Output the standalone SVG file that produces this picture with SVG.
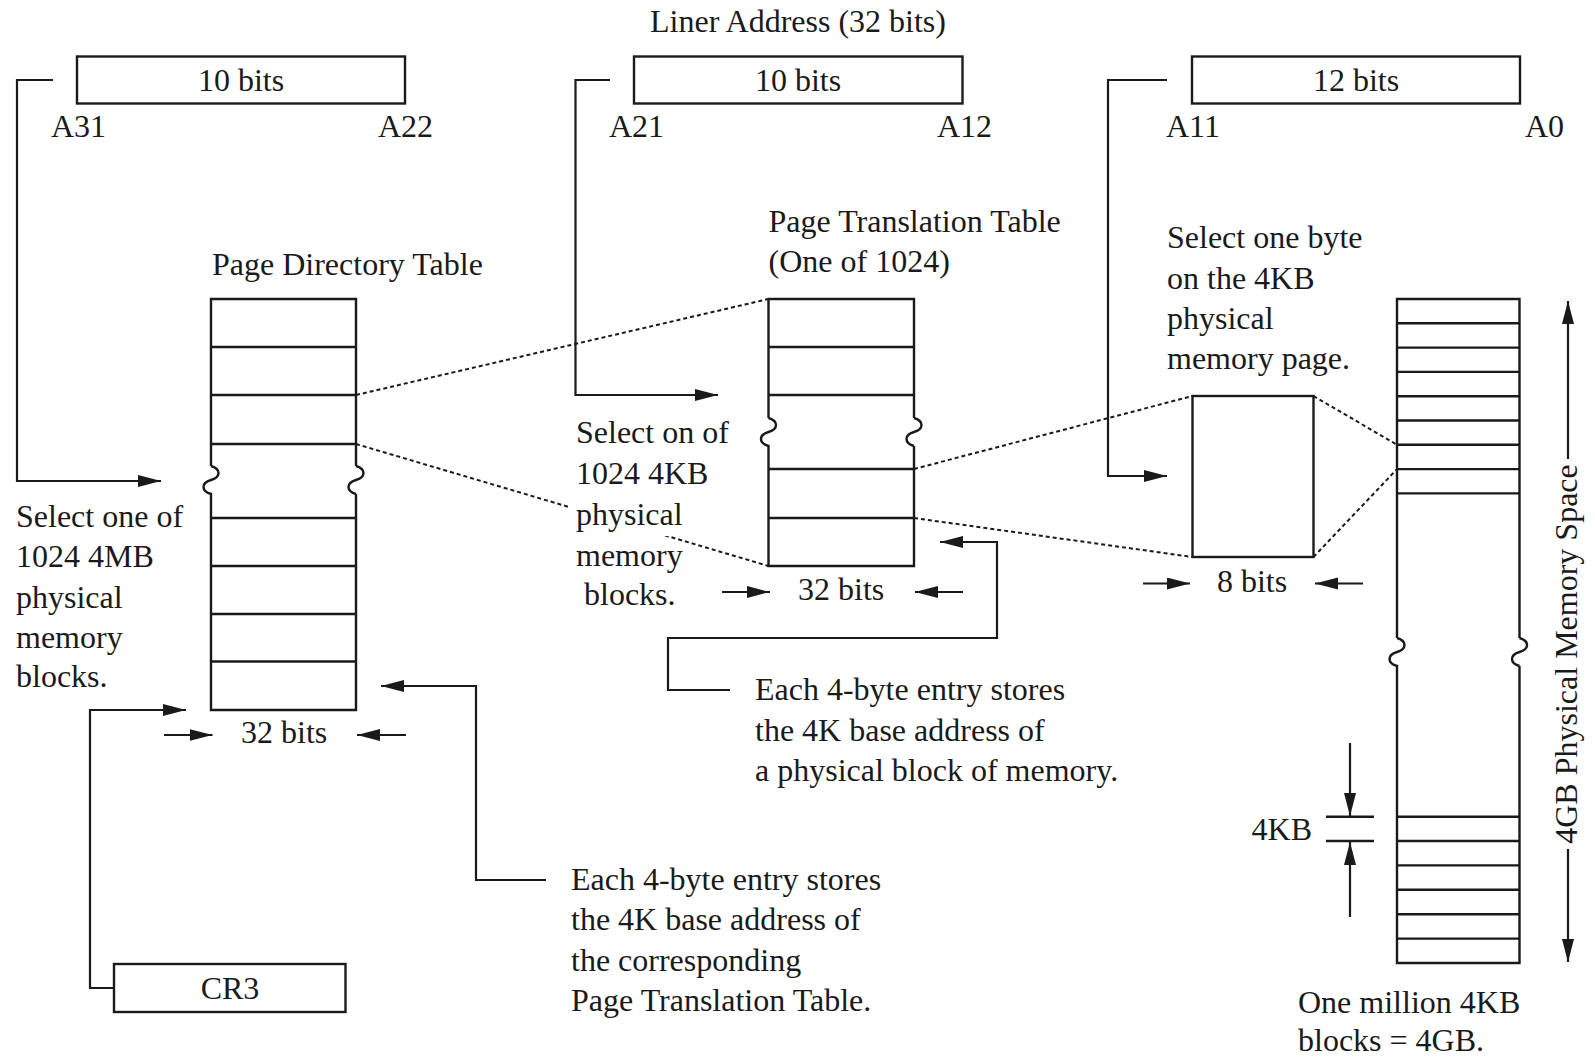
<svg xmlns="http://www.w3.org/2000/svg" width="1595" height="1057" viewBox="0 0 1595 1057">
  <style>
    text { font-family: "Liberation Serif", "Times New Roman", serif; font-size: 32px; fill: #1a1a1a; }
    .mid { text-anchor: middle; }
    .box { fill: #fff; stroke: #1a1a1a; stroke-width: 2.4; }
    .ln { fill: none; stroke: #1a1a1a; stroke-width: 2.4; }
    .row { fill: none; stroke: #1a1a1a; stroke-width: 2.4; }
    .dash { fill: none; stroke: #1a1a1a; stroke-width: 2; stroke-dasharray: 4 3; }
    .arr { fill: none; stroke: #1a1a1a; stroke-width: 2.2; marker-end: url(#head); }
  </style>
  <defs>
    <marker id="head" markerUnits="userSpaceOnUse" markerWidth="24" markerHeight="14" refX="23" refY="6" orient="auto">
      <path d="M0,0 L23,6 L0,12 Z" fill="#1a1a1a"/>
    </marker>
  </defs>

  <rect width="1595" height="1057" fill="#fff"/>

  <!-- connectors -->
  <g id="connectors">
    <!-- linear address fields to their tables -->
    <polyline class="arr" points="53,80 17,80 17,481 161,481"/>
    <polyline class="arr" points="610,80 575.5,80 575.5,395 718,395"/>
    <polyline class="arr" points="1167,80 1108,80 1108,476 1167,476"/>
    <!-- CR3 to page directory -->
    <polyline class="arr" points="114,988 90,988 90,710 186,710"/>
    <!-- entry notes -->
    <polyline class="arr" points="546,880 476,880 476,686 381,686"/>
    <polyline class="arr" points="730,690 668,690 668,638 997,638 997,542 940,542"/>
    <!-- expansion lines -->
    <line class="dash" x1="356" y1="395" x2="768.5" y2="299"/>
    <line class="dash" x1="356" y1="444" x2="768.5" y2="566"/>
    <line class="dash" x1="914" y1="469" x2="1192.5" y2="396"/>
    <line class="dash" x1="914" y1="518" x2="1192.5" y2="557"/>
    <line class="dash" x1="1313.5" y1="396" x2="1397" y2="444.8"/>
    <line class="dash" x1="1313.5" y1="557" x2="1397" y2="469.1"/>
    <!-- width dimension arrows -->
    <line class="arr" x1="164" y1="735" x2="212.5" y2="735"/>
    <line class="arr" x1="406" y1="735" x2="357" y2="735"/>
    <line class="arr" x1="722" y1="592" x2="770" y2="592"/>
    <line class="arr" x1="963" y1="592" x2="915" y2="592"/>
    <line class="arr" x1="1143" y1="583.5" x2="1190" y2="583.5"/>
    <line class="arr" x1="1363" y1="583.5" x2="1315" y2="583.5"/>
    <!-- 4KB block height -->
    <line class="ln" x1="1326" y1="816.7" x2="1374" y2="816.7"/>
    <line class="ln" x1="1326" y1="841" x2="1374" y2="841"/>
    <line class="arr" x1="1350" y1="743" x2="1350" y2="816"/>
    <line class="arr" x1="1350" y1="917" x2="1350" y2="842"/>
    <!-- 4GB span -->
    <line class="arr" x1="1568" y1="459" x2="1568" y2="301"/>
    <line class="arr" x1="1568" y1="849" x2="1568" y2="962"/>
  </g>

  <!-- linear address fields -->
  <g id="linear-address">
    <text class="mid" x="798" y="32">Liner Address (32 bits)</text>
    <g id="field-dir">
      <rect class="box" x="77" y="56.5" width="328" height="47"/>
      <text class="mid" x="241" y="90.5">10 bits</text>
      <text x="51" y="136.5">A31</text>
      <text x="378" y="136.5">A22</text>
    </g>
    <g id="field-table">
      <rect class="box" x="634" y="56.5" width="328.5" height="47"/>
      <text class="mid" x="798" y="90.5">10 bits</text>
      <text x="609" y="136.5">A21</text>
      <text x="937" y="136.5">A12</text>
    </g>
    <g id="field-offset">
      <rect class="box" x="1192" y="56.5" width="328" height="47"/>
      <text class="mid" x="1356" y="90.5">12 bits</text>
      <text x="1166" y="136.5">A11</text>
      <text x="1525" y="136.5">A0</text>
    </g>
  </g>

  <!-- page directory table -->
  <g id="page-directory">
    <text x="212" y="275">Page Directory Table</text>
    <path class="ln" d="M211,466 V299 H356 V466"/>
    <path class="ln" d="M211,466 C221,469 221,477 211,480 S201,491 211,494 V710 H356 V494"/>
    <path class="ln" d="M356,466 C366,469 366,477 356,480 S346,491 356,494"/>
    <line class="row" x1="211" y1="347" x2="356" y2="347"/>
    <line class="row" x1="211" y1="395" x2="356" y2="395"/>
    <line class="row" x1="211" y1="444" x2="356" y2="444"/>
    <line class="row" x1="211" y1="518" x2="356" y2="518"/>
    <line class="row" x1="211" y1="566" x2="356" y2="566"/>
    <line class="row" x1="211" y1="614" x2="356" y2="614"/>
    <line class="row" x1="211" y1="661.5" x2="356" y2="661.5"/>
    <text x="241" y="742.5">32 bits</text>
    <text x="16" y="526.5">Select one of</text>
    <text x="16" y="567">1024 4MB</text>
    <text x="16" y="608">physical</text>
    <text x="16" y="648">memory</text>
    <text x="16" y="687">blocks.</text>
  </g>

  <!-- page translation table -->
  <g id="page-table">
    <text x="768.5" y="231.5">Page Translation Table</text>
    <text x="768.5" y="271.5">(One of 1024)</text>
    <path class="ln" d="M768.5,418 V299 H914 V418"/>
    <path class="ln" d="M768.5,418 C778.5,421 778.5,429 768.5,432 S758.5,443 768.5,446 V566 H914 V446"/>
    <path class="ln" d="M914,418 C924,421 924,429 914,432 S904,443 914,446"/>
    <line class="row" x1="768.5" y1="347" x2="914" y2="347"/>
    <line class="row" x1="768.5" y1="395" x2="914" y2="395"/>
    <line class="row" x1="768.5" y1="469" x2="914" y2="469"/>
    <line class="row" x1="768.5" y1="518" x2="914" y2="518"/>
    <text x="798" y="600">32 bits</text>
    <rect x="570" y="498" width="112" height="38" fill="#fff"/>
    <text x="576" y="442.5">Select on of</text>
    <text x="576" y="484">1024 4KB</text>
    <text x="576" y="525">physical</text>
    <text x="576" y="566">memory</text>
    <text x="584" y="605">blocks.</text>
  </g>

  <!-- selected 4KB page -->
  <g id="page-frame">
    <text x="1167" y="248">Select one byte</text>
    <text x="1167" y="288.5">on the 4KB</text>
    <text x="1167" y="328.5">physical</text>
    <text x="1167" y="368.5">memory page.</text>
    <rect class="box" x="1192.5" y="396" width="121" height="161"/>
    <text class="mid" x="1252" y="591.5">8 bits</text>
  </g>

  <!-- physical memory -->
  <g id="physical-memory">
    <path class="ln" d="M1397,638 V299 H1519.5 V638"/>
    <path class="ln" d="M1397,638 C1407,641 1407,649 1397,652 S1387,663 1397,666 V963 H1519.5 V666"/>
    <path class="ln" d="M1519.5,638 C1529.5,641 1529.5,649 1519.5,652 S1509.5,663 1519.5,666"/>
    <line class="row" x1="1397" y1="323.3" x2="1519.5" y2="323.3"/>
    <line class="row" x1="1397" y1="347.6" x2="1519.5" y2="347.6"/>
    <line class="row" x1="1397" y1="371.9" x2="1519.5" y2="371.9"/>
    <line class="row" x1="1397" y1="396.2" x2="1519.5" y2="396.2"/>
    <line class="row" x1="1397" y1="420.5" x2="1519.5" y2="420.5"/>
    <line class="row" x1="1397" y1="444.8" x2="1519.5" y2="444.8"/>
    <line class="row" x1="1397" y1="469.1" x2="1519.5" y2="469.1"/>
    <line class="row" x1="1397" y1="493.4" x2="1519.5" y2="493.4"/>
    <line class="row" x1="1397" y1="816.7" x2="1519.5" y2="816.7"/>
    <line class="row" x1="1397" y1="841" x2="1519.5" y2="841"/>
    <line class="row" x1="1397" y1="865.4" x2="1519.5" y2="865.4"/>
    <line class="row" x1="1397" y1="889.8" x2="1519.5" y2="889.8"/>
    <line class="row" x1="1397" y1="914.2" x2="1519.5" y2="914.2"/>
    <line class="row" x1="1397" y1="938.6" x2="1519.5" y2="938.6"/>
    <text x="1312" y="839.5" text-anchor="end">4KB</text>
    <text class="mid" transform="translate(1577,654) rotate(-90)">4GB Physical Memory Space</text>
    <text x="1298" y="1012.5">One million 4KB</text>
    <text x="1298" y="1050.5">blocks = 4GB.</text>
  </g>

  <!-- CR3 register -->
  <g id="cr3">
    <rect class="box" x="114" y="964" width="231.5" height="48"/>
    <text class="mid" x="230" y="999">CR3</text>
  </g>

  <!-- entry notes -->
  <g id="note-directory-entry">
    <text x="571" y="890">Each 4-byte entry stores</text>
    <text x="571" y="930">the 4K base address of</text>
    <text x="571" y="970.5">the corresponding</text>
    <text x="571" y="1010.5">Page Translation Table.</text>
  </g>
  <g id="note-table-entry">
    <text x="755" y="700">Each 4-byte entry stores</text>
    <text x="755" y="740.5">the 4K base address of</text>
    <text x="755" y="780.5">a physical block of memory.</text>
  </g>
</svg>
